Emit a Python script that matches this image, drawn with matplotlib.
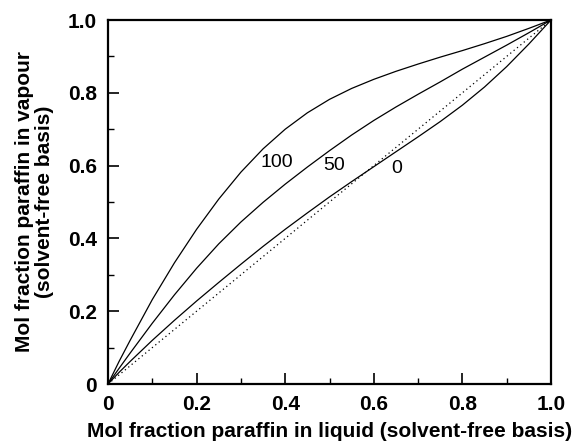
import matplotlib
matplotlib.use("Agg")
import matplotlib.pyplot as plt
from matplotlib.ticker import MultipleLocator, FixedLocator

plt.rcParams['font.family'] = ['Liberation Sans', 'DejaVu Sans']

# Data
x_liquid = [0, 0.025, 0.05, 0.1, 0.15, 0.2, 0.25, 0.3, 0.35, 0.4, 0.45, 0.5,
            0.55, 0.6, 0.65, 0.7, 0.75, 0.8, 0.85, 0.9, 0.95, 1.0]
y_100 = [0, 0.062, 0.12, 0.232, 0.333, 0.425, 0.508, 0.582, 0.646, 0.700, 0.745, 0.782,
         0.812, 0.837, 0.859, 0.879, 0.898, 0.916, 0.935, 0.955, 0.977, 1.0]
y_50 = [0, 0.043, 0.085, 0.167, 0.245, 0.318, 0.385, 0.445, 0.499, 0.549, 0.596, 0.641,
        0.684, 0.724, 0.761, 0.796, 0.830, 0.865, 0.898, 0.931, 0.965, 1.0]
y_0 = [0, 0.032, 0.062, 0.120, 0.175, 0.228, 0.279, 0.329, 0.378, 0.425, 0.470, 0.514,
       0.556, 0.597, 0.638, 0.679, 0.721, 0.766, 0.816, 0.872, 0.934, 1.0]
diag = [0, 1.0]

curve_labels = ["100", "50", "0"]
label_pos = [(0.382, 0.609), (0.510, 0.599), (0.652, 0.592)]

tick_vals = [0, 0.2, 0.4, 0.6, 0.8, 1.0]
tick_labels = ["0", "0.2", "0.4", "0.6", "0.8", "1.0"]

fig = plt.figure(figsize=(5.8, 4.43), dpi=100)
ax = fig.add_axes([108/580, 1 - 384/443, (551-108)/580, (384-20)/443])

for ys in (y_100, y_50, y_0):
    ax.plot(x_liquid, ys, color='black', lw=0.9)
ax.plot(diag, diag, color='black', lw=0.9, linestyle=(0, (1, 2.5)))

for lab, (lx, ly) in zip(curve_labels, label_pos):
    ax.text(lx, ly, lab, ha='center', va='center', fontsize=14)

ax.set_xlim(0, 1)
ax.set_ylim(0, 1)
ax.xaxis.set_major_locator(FixedLocator(tick_vals))
ax.yaxis.set_major_locator(FixedLocator(tick_vals))
ax.set_xticklabels(tick_labels)
ax.set_yticklabels(tick_labels)
ax.xaxis.set_minor_locator(MultipleLocator(0.1))
ax.yaxis.set_minor_locator(MultipleLocator(0.1))
ax.tick_params(which='major', direction='in', length=8, width=1.2,
               labelsize=15, pad=8)
ax.tick_params(which='minor', direction='in', length=4, width=1.0)
for lbl in ax.get_xticklabels() + ax.get_yticklabels():
    lbl.set_fontweight('bold')
for s in ax.spines.values():
    s.set_linewidth(1.6)

ax.set_xlabel("Mol fraction paraffin in liquid (solvent-free basis)",
              fontsize=15, fontweight='bold', labelpad=6)
ax.set_ylabel("Mol fraction paraffin in vapour\n(solvent-free basis)",
              fontsize=15, fontweight='bold', labelpad=10, linespacing=1.05)

fig.savefig("out.png", dpi=100)
